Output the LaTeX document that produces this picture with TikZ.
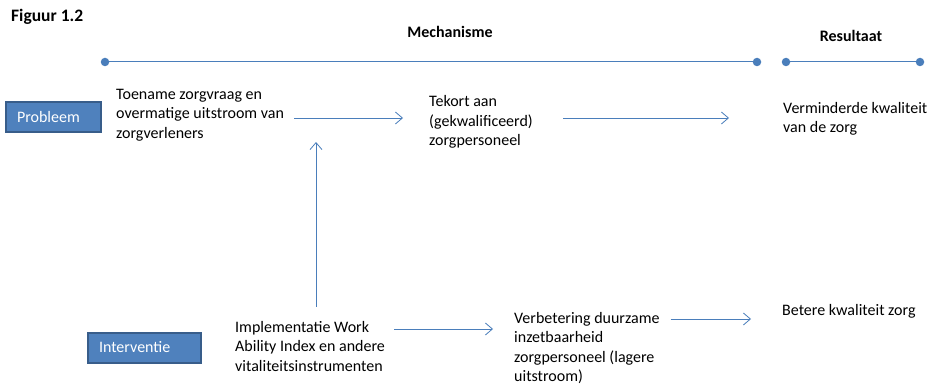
\documentclass[tikz,border=0pt]{standalone}
\usepackage{fontspec}
\setmainfont{Carlito}
\usetikzlibrary{arrows.meta}
\definecolor{lineblue}{HTML}{4A7EBB}
\definecolor{boxblue}{HTML}{4F81BD}
\definecolor{boxedge}{HTML}{385D8A}
\tikzset{every node/.style={inner sep=0pt, font=\fontsize{16}{19.5}\selectfont},
  txt/.style={anchor=west, align=left},
  head/.style={font=\fontsize{16}{19.5}\selectfont\bfseries},
  dot/.style={circle, fill=lineblue, minimum size=8.5pt},
  timeline/.style={lineblue, line width=1pt},
  flow/.style={lineblue, line width=0.9pt, -{Straight Barb[length=7pt,width=12pt,line width=0.8pt]}},
  box/.style={draw=boxedge, line width=2pt, fill=boxblue, text=white, inner xsep=11pt, minimum height=30pt, align=left}}

\begin{document}
\begin{tikzpicture}[x=1pt,y=-1pt]
  \useasboundingbox (0,0) rectangle (936,385);
  \node[head, anchor=west, font=\fontsize{17.5}{20}\selectfont\bfseries] (figuur) at (11,17) {Figuur 1.2};
  % tijdlijn
  \node[dot] (m1) at (105,62) {};
  \node[dot] (m2) at (757,62) {};
  \node[dot] (r1) at (786,62) {};
  \node[dot] (r2) at (920,62) {};
  \draw[timeline] (m1) -- (m2);
  \draw[timeline] (r1) -- (r2);
  \node[head] (mech) at (450,32) {Mechanisme};
  \node[head] (res) at (851,36) {Resultaat};
  % blokken
  \node[box, text width=73pt] (probleem) at (53.5,117) {Probleem};
  \node[box, text width=91pt] (interventie) at (144.5,347.5) {Interventie};
  % teksten
  \node[txt] (toename) at (116,115) {Toename zorgvraag en\\overmatige uitstroom van\\zorgverleners};
  \node[txt] (tekort) at (429,122) {Tekort aan\\(gekwalificeerd)\\zorgpersoneel};
  \node[txt] (verminderd) at (783,119) {Verminderde kwaliteit\\van de zorg};
  \node[txt] (impl) at (235,346) {Implementatie Work\\Ability Index en andere\\vitaliteitsinstrumenten};
  \node[txt] (verbetering) at (514,348) {Verbetering duurzame\\inzetbaarheid\\zorgpersoneel (lagere\\uitstroom)};
  \node[txt] (betere) at (782,311) {Betere kwaliteit zorg};
  % pijlen
  \coordinate (row1) at (0,118);
  \coordinate (row2) at (0,329);
  \coordinate (row3) at (0,319);
  \coordinate (join) at (316,118);
  \draw[flow, shorten <=10pt, shorten >=26pt] (toename.east |- row1) -- (tekort.west |- row1);
  \draw[flow, shorten <=30pt, shorten >=54pt] (tekort.east |- row1) -- (verminderd.west |- row1);
  \draw[flow, shorten >=24pt] (join |- impl.north) ++(0,-14) -- (join);
  \draw[flow, shorten <=9pt, shorten >=21pt] (impl.east |- row2) -- (verbetering.west |- row2);
  \draw[flow, shorten <=11pt, shorten >=31pt] (verbetering.east |- row3) -- (betere.west |- row3);
\end{tikzpicture}
\end{document}
